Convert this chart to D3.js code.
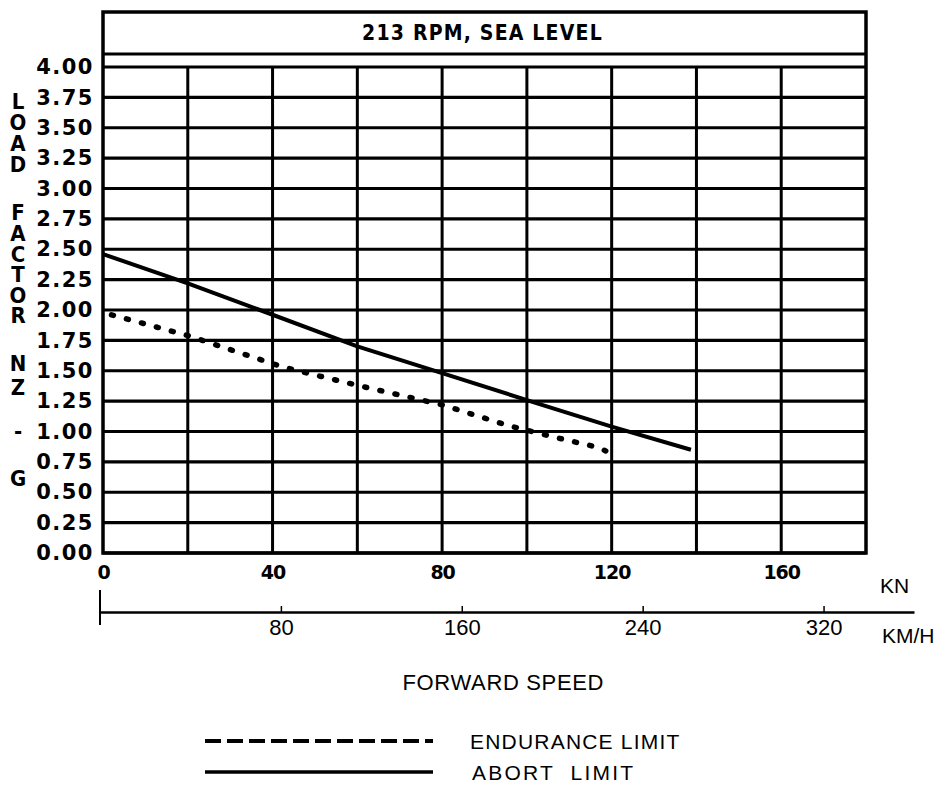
<!DOCTYPE html>
<html>
<head>
<meta charset="utf-8">
<script src="https://cdn.jsdelivr.net/npm/d3@7"></script>
<style>
  body { margin: 0; background: #fff; }
  svg { display: block; }
  .vtitle { writing-mode: vertical-rl; text-orientation: upright; }
</style>
</head>
<body>
<div class="chart"></div>
<script>
// values
const titleText = "213 RPM, SEA LEVEL";
const yTicks = [0, 0.25, 0.5, 0.75, 1, 1.25, 1.5, 1.75, 2, 2.25, 2.5, 2.75, 3, 3.25, 3.5, 3.75, 4];
const knTicks = [0, 40, 80, 120, 160];
const knGrid = [20, 40, 60, 80, 100, 120, 140, 160];
const kmhTicks = [80, 160, 240, 320];

// endurance limit (dotted)
const enduranceKn = [2, 20, 42.5, 60, 80, 95.5, 105.7, 116.7, 118.6];
const enduranceG = [1.96, 1.79, 1.53, 1.38, 1.22, 1.05, 0.96, 0.87, 0.84];
// abort limit (solid)
const abortKn = [0, 20, 37, 60, 80, 102.6, 120, 138.7];
const abortG = [2.46, 2.22, 2.0, 1.70, 1.48, 1.23, 1.04, 0.85];

const legendItems = ["ENDURANCE LIMIT", "ABORT LIMIT"];

const W = 947, H = 790;
const plotLeft = 103, plotRight = 866, plotTop = 12, plotBottom = 553;

const svg = d3.select(".chart").append("svg")
  .attr("width", W)
  .attr("height", H);

const x = d3.scaleLinear().domain([0, 180]).range([plotLeft, plotRight]);
const y = d3.scaleLinear().domain([0, 4]).range([plotBottom, 67]);
// km/h axis is drawn a touch shorter than a strict conversion, as in the original
const xKmh = d3.scaleLinear().domain([0, 360]).range([100, 914]);

// horizontal grid
svg.append("g")
  .selectAll("line")
  .data(yTicks)
  .enter().append("line")
  .attr("x1", plotLeft).attr("x2", plotRight)
  .attr("y1", d => y(d)).attr("y2", d => y(d))
  .attr("stroke", "#000")
  .attr("stroke-width", 3.2);

// vertical grid
svg.append("g")
  .selectAll("line")
  .data(knGrid)
  .enter().append("line")
  .attr("x1", d => x(d)).attr("x2", d => x(d))
  .attr("y1", y(4)).attr("y2", y(0))
  .attr("stroke", "#000")
  .attr("stroke-width", 3);

// frame + title box
svg.append("rect")
  .attr("x", plotLeft).attr("y", plotTop)
  .attr("width", plotRight - plotLeft).attr("height", plotBottom - plotTop)
  .attr("fill", "none")
  .attr("stroke", "#000")
  .attr("stroke-width", 3.5);

svg.append("line")
  .attr("x1", plotLeft).attr("x2", plotRight)
  .attr("y1", 54).attr("y2", 54)
  .attr("stroke", "#000")
  .attr("stroke-width", 3);

svg.append("text")
  .attr("x", (plotLeft + plotRight) / 2 - 2)
  .attr("y", 40)
  .attr("text-anchor", "middle")
  .attr("font-family", "DejaVu Sans Condensed, DejaVu Sans")
  .attr("font-weight", "bold")
  .attr("font-size", 21)
  .attr("letter-spacing", 1.2)
  .text(titleText);

// y axis labels
const yAxis = svg.append("g")
  .attr("transform", `translate(${plotLeft},0)`)
  .call(d3.axisLeft(y).tickValues(yTicks).tickFormat(d3.format(".2f")).tickSize(0).tickPadding(9));
yAxis.select(".domain").remove();
yAxis.selectAll("text")
  .attr("font-family", "DejaVu Sans")
  .attr("font-weight", "bold")
  .attr("font-size", 21)
  .attr("letter-spacing", 1.5)
  .attr("fill", "#000");

// vertical axis title, stacked upright letters (one text per word)
const yTitle = [
  { text: "LOAD", y0: 100, step: 21.5 },
  { text: "FACTOR", y0: 211, step: 21.2 },
  { text: "NZ", y0: 363, step: 25 },
  { text: "-", y0: 430, step: 22 },
  { text: "G", y0: 477, step: 22 }
];
const titleSize = 22;
const uprightAdvance = titleSize * 1.164;
svg.append("g")
  .selectAll("text")
  .data(yTitle)
  .enter().append("text")
  .attr("class", "vtitle")
  .attr("x", 18)
  .attr("y", d => d.y0 - d.step / 2)
  .attr("font-family", "DejaVu Sans Condensed, DejaVu Sans")
  .attr("font-weight", "bold")
  .attr("font-size", titleSize)
  .attr("letter-spacing", d => d.step - uprightAdvance)
  .text(d => d.text);

// knots axis labels
const knAxis = svg.append("g")
  .attr("transform", `translate(0,${plotBottom})`)
  .call(d3.axisBottom(x).tickValues(knTicks).tickSize(0).tickPadding(13));
knAxis.select(".domain").remove();
knAxis.selectAll("text")
  .attr("font-family", "DejaVu Sans")
  .attr("font-weight", "bold")
  .attr("font-size", 19)
  .attr("letter-spacing", -1)
  .attr("fill", "#000");

svg.append("text")
  .attr("x", 880).attr("y", 593)
  .attr("font-family", "Liberation Sans")
  .attr("font-size", 21)
  .text("KN");

// km/h axis
const kmhAxis = svg.append("g")
  .attr("transform", "translate(0,612)")
  .call(d3.axisBottom(xKmh).tickValues(kmhTicks).tickSizeInner(-6).tickSizeOuter(0).tickPadding(7));
kmhAxis.select(".domain").attr("stroke-width", 2.5);
kmhAxis.selectAll(".tick line").attr("stroke-width", 1.5);
kmhAxis.selectAll("text")
  .attr("font-family", "Liberation Sans")
  .attr("font-size", 22)
  .attr("fill", "#000");

svg.append("line")
  .attr("x1", xKmh(0)).attr("x2", xKmh(0))
  .attr("y1", 590).attr("y2", 625)
  .attr("stroke", "#000")
  .attr("stroke-width", 2);

svg.append("text")
  .attr("x", 882).attr("y", 643)
  .attr("font-family", "Liberation Sans")
  .attr("font-size", 21)
  .text("KM/H");

svg.append("text")
  .attr("x", 503).attr("y", 690)
  .attr("text-anchor", "middle")
  .attr("font-family", "Liberation Sans")
  .attr("font-size", 22)
  .attr("textLength", 201)
  .text("FORWARD SPEED");

// data lines
const line = d3.line()
  .x(d => x(d[0]))
  .y(d => y(d[1]));

svg.append("path")
  .datum(d3.zip(enduranceKn, enduranceG))
  .attr("d", line)
  .attr("fill", "none")
  .attr("stroke", "#000")
  .attr("stroke-width", 5.5)
  .attr("stroke-linecap", "round")
  .attr("stroke-dasharray", "2,13.5");

svg.append("path")
  .datum(d3.zip(abortKn, abortG))
  .attr("d", line)
  .attr("fill", "none")
  .attr("stroke", "#000")
  .attr("stroke-width", 4);

// legend
const legend = svg.append("g");
const legendY = [741, 772];
legend.selectAll("line")
  .data(legendItems)
  .enter().append("line")
  .attr("x1", 205).attr("x2", 433)
  .attr("y1", (d, i) => legendY[i]).attr("y2", (d, i) => legendY[i])
  .attr("stroke", "#000")
  .attr("stroke-width", (d, i) => i === 0 ? 4 : 3.5)
  .attr("stroke-dasharray", (d, i) => i === 0 ? "16,6" : null);

legend.selectAll("text")
  .data(legendItems)
  .enter().append("text")
  .attr("x", (d, i) => i === 0 ? 470 : 472)
  .attr("y", (d, i) => legendY[i] + 8)
  .attr("font-family", "Liberation Sans")
  .attr("font-size", 21)
  .attr("letter-spacing", (d, i) => i === 0 ? 1.2 : 2.2)
  .attr("word-spacing", (d, i) => i === 0 ? 0 : 8)
  .text(d => d);
</script>
</body>
</html>
